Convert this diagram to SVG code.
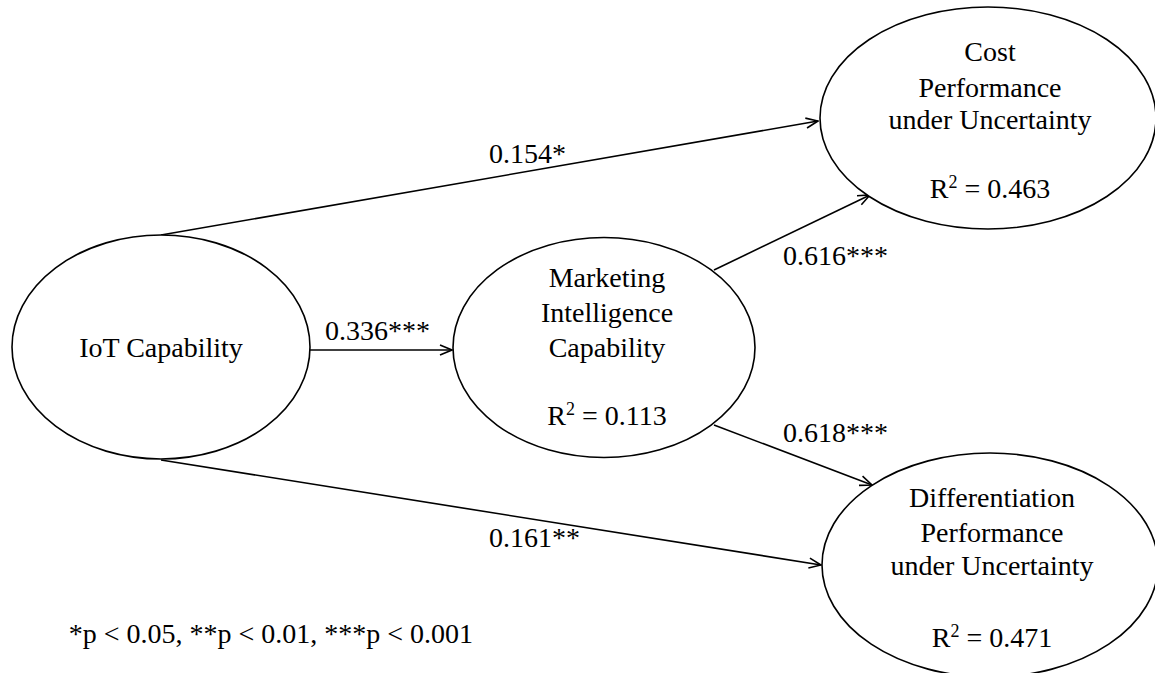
<svg xmlns="http://www.w3.org/2000/svg" width="1155" height="673" viewBox="0 0 1155 673">
<style>
.node{fill:#fff;stroke:#000;stroke-width:1.6}
.t{font-family:"Liberation Serif","Times New Roman",serif;font-size:28px;fill:#000}
.c{text-anchor:middle}
.e{stroke:#000;stroke-width:1.6;fill:none;marker-end:url(#arr)}
</style>
<defs>
<marker id="arr" viewBox="0 0 14 12" refX="13" refY="6" markerWidth="14" markerHeight="12" markerUnits="userSpaceOnUse" orient="auto">
<path d="M1,1 L13,6 L1,11" fill="none" stroke="#000" stroke-width="1.6"/>
</marker>
</defs>
<rect width="1155" height="673" fill="#fff"/>
<g id="connectors">
<line class="e" x1="161" y1="235" x2="818" y2="121"/>
<line class="e" x1="310" y1="350" x2="452" y2="350"/>
<line class="e" x1="714" y1="270" x2="870" y2="195"/>
<line class="e" x1="714" y1="425" x2="872" y2="485"/>
<line class="e" x1="161" y1="460" x2="821" y2="565"/>
</g>
<g id="edge-labels" class="t">
<text x="489" y="163">0.154*</text>
<text x="783" y="265">0.616***</text>
<text x="325" y="340">0.336***</text>
<text x="783" y="442">0.618***</text>
<text x="489" y="547">0.161**</text>
</g>
<g id="iot">
<ellipse class="node" cx="161" cy="347" rx="149" ry="112"/>
<text class="t c" x="161" y="357">IoT Capability</text>
</g>
<g id="mic">
<ellipse class="node" cx="604" cy="347.5" rx="151" ry="110"/>
<text class="t c" x="607" y="287">Marketing</text>
<text class="t c" x="607" y="322">Intelligence</text>
<text class="t c" x="607" y="357">Capability</text>
<text class="t c" x="607" y="425">R<tspan font-size="18" dy="-10">2</tspan><tspan dy="10"> = 0.113</tspan></text>
</g>
<g id="cost">
<ellipse class="node" cx="988" cy="118" rx="168" ry="111"/>
<text class="t c" x="990" y="61">Cost</text>
<text class="t c" x="990" y="97">Performance</text>
<text class="t c" x="990" y="129">under Uncertainty</text>
<text class="t c" x="990" y="198">R<tspan font-size="18" dy="-10">2</tspan><tspan dy="10"> = 0.463</tspan></text>
</g>
<g id="diff">
<ellipse class="node" cx="990" cy="565" rx="168" ry="112"/>
<text class="t c" x="992" y="507">Differentiation</text>
<text class="t c" x="992" y="542">Performance</text>
<text class="t c" x="992" y="575">under Uncertainty</text>
<text class="t c" x="992" y="647">R<tspan font-size="18" dy="-10">2</tspan><tspan dy="10"> = 0.471</tspan></text>
</g>
<text id="note" class="t" x="473" y="643" text-anchor="end">*p &lt; 0.05, **p &lt; 0.01, ***p &lt; 0.001</text>
</svg>
